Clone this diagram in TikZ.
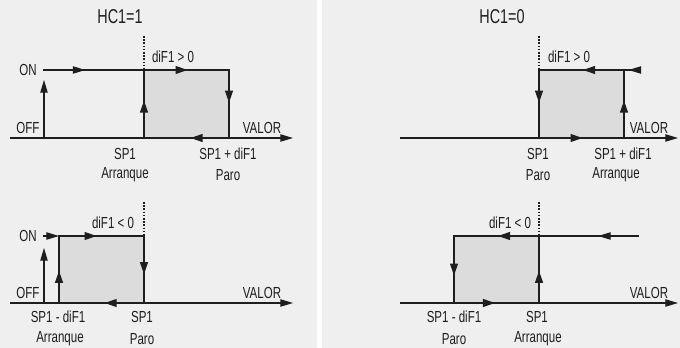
\documentclass[tikz,border=0pt]{standalone}
\usepackage{fontspec}
\setmainfont{Liberation Sans}[FakeStretch=0.72]
\usetikzlibrary{arrows.meta,decorations.markings}
\definecolor{panelgray}{HTML}{EFEFEF}
\definecolor{boxgray}{HTML}{DCDCDD}
\definecolor{inkgray}{HTML}{1E1E1E}
\begin{document}
\begin{tikzpicture}[x=0.75pt, y=-0.75pt,
  thinline/.style={line width=0.85pt, draw=inkgray},
  edge/.style={line width=2.1pt, draw=inkgray, line cap=rect},
  midtip/.style={postaction={decorate}, decoration={markings, mark=at position #1 with {\arrow[inkgray]{Triangle[length=9.5pt,width=5.5pt]}}}},
  endtip/.style={-{Triangle[length=9.5pt,width=5.5pt]}},
  guide/.style={line width=0.9pt, draw=inkgray, dash pattern=on 1.2pt off 1.2pt},
  lbl/.style={text=inkgray, inner sep=0pt, font=\fontsize{12}{14}\selectfont},
  ttl/.style={text=inkgray, inner sep=0pt, font=\fontsize{15}{17}\selectfont}]
\useasboundingbox (0,0) rectangle (680,348);
\fill[panelgray] (0,0) rectangle (316.5,348);
\fill[panelgray] (321.5,0) rectangle (680,348);
% HC1=1, diF1 > 0
\coordinate (aOn) at (43,70);
\coordinate (aTL) at (144,70);
\coordinate (aTR) at (229,70);
\coordinate (aBR) at (229,138);
\coordinate (aBL) at (144,138);
\coordinate (aAx0) at (10,138);
\coordinate (aAx1) at (293,138);
\coordinate (aOff) at (44,138);
\coordinate (aUp) at (44,80);
\coordinate (aDot) at (144,36);
\fill[boxgray] (aTL) rectangle (aBR);
\draw[thinline, endtip] (aAx0) -- (aAx1);
\draw[thinline, midtip=0.42] (aOn) -- (aTL);
\draw[thinline, endtip] (aOff) -- (aUp);
\draw[guide] (aDot) -- (aTL);
\draw[edge, midtip=0.52] (aTL) -- (aTR);
\draw[edge, midtip=0.49] (aTR) -- (aBR);
\draw[edge, midtip=0.46] (aBR) -- (aBL);
\draw[edge, midtip=0.56] (aBL) -- (aTL);
\node[ttl] (aTitle) at (120,17) {HC1=1};
\node[lbl] (aOnTxt) at (28,70) {ON};
\node[lbl] (aOffTxt) at (28,128) {OFF};
\node[lbl] (aValor) at (262,128) {VALOR};
\node[lbl] (aDif) at (173,57) {diF1 > 0};
\node[lbl] (aSp) at (125,154) {SP1};
\node[lbl] (aStart) at (125,175) {Arranque};
\node[lbl] (aSpd) at (228,154) {SP1 + diF1};
\node[lbl] (aStop) at (228,175) {Paro};
% HC1=1, diF1 < 0
\coordinate (bOn) at (43,236);
\coordinate (bTL) at (59,236);
\coordinate (bTR) at (144,236);
\coordinate (bBR) at (144,303);
\coordinate (bBL) at (59,303);
\coordinate (bAx0) at (10,303);
\coordinate (bAx1) at (293,303);
\coordinate (bOff) at (44,303);
\coordinate (bUp) at (44,248);
\coordinate (bDot) at (144,202);
\fill[boxgray] (bTL) rectangle (bBR);
\draw[thinline, endtip] (bAx0) -- (bAx1);
\draw[thinline, endtip] (bOn) -- (bTL);
\draw[thinline, endtip] (bOff) -- (bUp);
\draw[guide] (bDot) -- (bTR);
\draw[edge, midtip=0.45] (bTL) -- (bTR);
\draw[edge, midtip=0.58] (bTR) -- (bBR);
\draw[edge, midtip=0.47] (bBR) -- (bBL);
\draw[edge, midtip=0.49] (bBL) -- (bTL);
\node[lbl] (bOnTxt) at (28,236) {ON};
\node[lbl] (bOffTxt) at (28,293) {OFF};
\node[lbl] (bValor) at (262,293) {VALOR};
\node[lbl] (bDif) at (113,223) {diF1 < 0};
\node[lbl] (bSpd) at (58,317) {SP1 - diF1};
\node[lbl] (bStart) at (60,339) {Arranque};
\node[lbl] (bSp) at (142,317) {SP1};
\node[lbl] (bStop) at (142,339) {Paro};
% HC1=0, diF1 > 0
\coordinate (cIn) at (639,70);
\coordinate (cTL) at (539,70);
\coordinate (cTR) at (624,70);
\coordinate (cBR) at (624,138);
\coordinate (cBL) at (539,138);
\coordinate (cAx0) at (400,138);
\coordinate (cAx1) at (678,138);
\coordinate (cDot) at (539,36);
\fill[boxgray] (cTL) rectangle (cBR);
\draw[thinline, endtip] (cAx0) -- (cAx1);
\draw[thinline, midtip=0.7] (cIn) -- (cTR);
\draw[guide] (cDot) -- (cTL);
\draw[edge, midtip=0.49] (cTR) -- (cTL);
\draw[edge, midtip=0.49] (cTL) -- (cBL);
\draw[edge, midtip=0.52] (cBL) -- (cBR);
\draw[edge, midtip=0.56] (cBR) -- (cTR);
\node[ttl] (cTitle) at (502,17) {HC1=0};
\node[lbl] (cValor) at (649,128) {VALOR};
\node[lbl] (cDif) at (569,57) {diF1 > 0};
\node[lbl] (cSp) at (538,154) {SP1};
\node[lbl] (cStop) at (538,175) {Paro};
\node[lbl] (cSpd) at (623,154) {SP1 + diF1};
\node[lbl] (cStart) at (616,175) {Arranque};
% HC1=0, diF1 < 0
\coordinate (dIn) at (639,236);
\coordinate (dTL) at (454,236);
\coordinate (dTR) at (539,236);
\coordinate (dBR) at (539,303);
\coordinate (dBL) at (454,303);
\coordinate (dAx0) at (400,303);
\coordinate (dAx1) at (678,303);
\coordinate (dDot) at (539,202);
\fill[boxgray] (dTL) rectangle (dBR);
\draw[thinline, endtip] (dAx0) -- (dAx1);
\draw[thinline, midtip=0.41] (dIn) -- (dTR);
\draw[guide] (dDot) -- (dTR);
\draw[edge, midtip=0.49] (dTR) -- (dTL);
\draw[edge, midtip=0.6] (dTL) -- (dBL);
\draw[edge, midtip=0.49] (dBL) -- (dBR);
\draw[edge, midtip=0.49] (dBR) -- (dTR);
\node[lbl] (dValor) at (649,293) {VALOR};
\node[lbl] (dDif) at (510,223) {diF1 < 0};
\node[lbl] (dSpd) at (454,317) {SP1 - diF1};
\node[lbl] (dStop) at (454,339) {Paro};
\node[lbl] (dSp) at (537,317) {SP1};
\node[lbl] (dStart) at (538,339) {Arranque};
\end{tikzpicture}
\end{document}
